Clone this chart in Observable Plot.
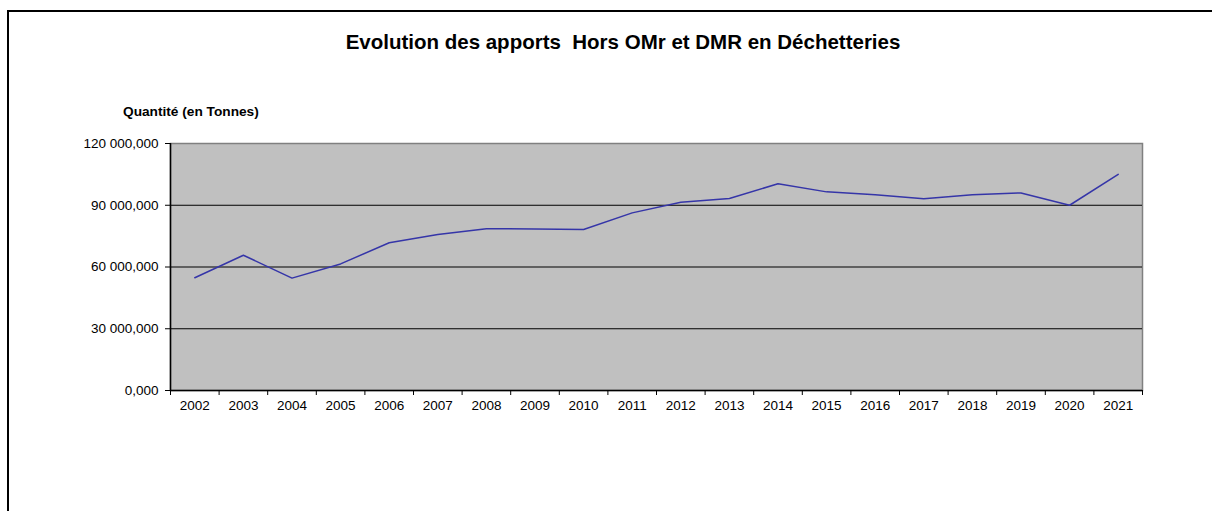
<!DOCTYPE html>
<html>
<head>
<meta charset="utf-8">
<script src="https://cdn.jsdelivr.net/npm/d3@7"></script>
<script src="https://cdn.jsdelivr.net/npm/@observablehq/plot@0.6"></script>
<style>
  html, body { margin: 0; padding: 0; background: #fff; }
  #wrap { position: relative; width: 1212px; height: 511px; overflow: hidden; font-family: "Liberation Sans", Arial, sans-serif; }
  #border { position: absolute; left: 7px; top: 10px; width: 1210px; height: 510px; border-top: 2px solid #000; border-left: 2px solid #000; }
  #title { position: absolute; left: 0; width: 1246px; top: 30px; text-align: center; font-weight: bold; font-size: 20.5px; color: #000; white-space: pre; }
  #ylabel { position: absolute; left: 122.5px; top: 104.5px; font-weight: bold; font-size: 12px; color: #000; transform: scaleX(1.14); transform-origin: left center; white-space: pre; }
  #chart { position: absolute; left: 0; top: 0; }
</style>
</head>
<body>
<div id="wrap">
  <div id="border"></div>
  <div id="chart"></div>
  <div id="title">Evolution des apports  Hors OMr et DMR en Déchetteries</div>
  <div id="ylabel">Quantité (en Tonnes)</div>
</div>
<script>
const years = [2002, 2003, 2004, 2005, 2006, 2007, 2008, 2009, 2010, 2011,
               2012, 2013, 2014, 2015, 2016, 2017, 2018, 2019, 2020, 2021];
const tonnes = [54800, 65700, 54600, 61500, 71800, 75800, 78600, 78500, 78200, 86300,
                91500, 93300, 100400, 96500, 95100, 93100, 95100, 96000, 90000, 105000];
const yTicks = [0, 30000, 60000, 90000, 120000];
const gridValues = [30000, 60000, 90000];

const data = years.map((year, i) => ({year, value: tonnes[i]}));
const boundaries = [...years.map(y => y - 0.5), years[years.length - 1] + 0.5];
const frFmt = d3.formatLocale({decimal: ",", thousands: " ", grouping: [3], currency: ["", ""]}).format(",.3f");

const chart = Plot.plot({
  width: 1212,
  height: 511,
  marginTop: 143,
  marginBottom: 121,
  marginLeft: 170,
  marginRight: 70,
  x: {domain: [boundaries[0], boundaries[boundaries.length - 1]]},
  y: {domain: [0, 120000]},
  style: {background: "transparent", fontFamily: "'Liberation Sans', Arial, sans-serif", fontSize: "13.5px", color: "#000"},
  marks: [
    Plot.frame({fill: "#c0c0c0", stroke: "#808080", strokeWidth: 1.5}),
    Plot.ruleY(gridValues, {stroke: "#000", strokeWidth: 1}),
    Plot.ruleX([boundaries[0]], {stroke: "#000", strokeWidth: 1.5}),
    Plot.ruleY([0], {stroke: "#000", strokeWidth: 1.5}),
    Plot.line(data, {x: "year", y: "value", stroke: "#3535a8", strokeWidth: 1.5}),
    Plot.axisY({ticks: yTicks, tickFormat: frFmt, tickSize: 5, tickPadding: 7, label: null}),
    Plot.axisX({ticks: boundaries, tickFormat: () => "", tickSize: 5, label: null}),
    Plot.axisX({ticks: years, tickFormat: d => String(d), tickSize: 0, tickPadding: 10, label: null})
  ]
});
document.getElementById("chart").appendChild(chart);
</script>
</body>
</html>
